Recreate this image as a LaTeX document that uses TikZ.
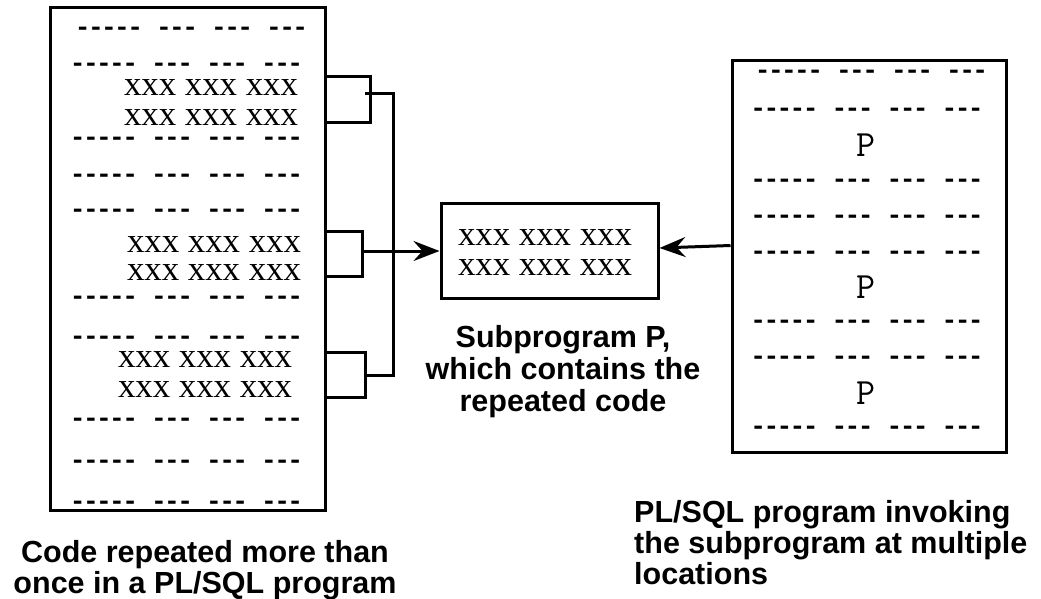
\documentclass[tikz,border=0pt]{standalone}
\usepackage{fontspec}
\setmainfont{Liberation Serif}
\newfontfamily\monofont[LetterSpace=-10]{Liberation Mono}
\newfontfamily\capfont{Liberation Sans}
\usetikzlibrary{arrows.meta}
\begin{document}
\begin{tikzpicture}[x=1pt,y=-1pt,
  box/.style={draw, line width=3pt, inner sep=0pt},
  dashrow/.style={anchor=base, inner sep=0pt, font=\monofont\bfseries\fontsize{26.2}{28}\selectfont},
  xrow/.style={anchor=base, inner sep=0pt, font=\fontsize{34.8}{36}\selectfont},
  prow/.style={anchor=base, inner sep=0pt, font=\ttfamily\fontsize{37}{40}\selectfont},
  capline/.style={anchor=base, inner sep=0pt, font=\capfont\bfseries\fontsize{30.5}{33}\selectfont},
  capleft/.style={capline, anchor=base west},
  conn/.style={line width=3pt, line join=miter},
  arr/.style={conn, -{Stealth[length=26pt,width=20pt,inset=9pt]}}
]
\useasboundingbox (0,0) rectangle (1041,599);

% ---------- left box ----------
\node[box, minimum width=275pt, minimum height=502pt] (lbox) at (187.5,259) {};
\node[dashrow] (l1) at (191.5,36) {----- --- --- ---};
\node[dashrow] (l2) at (186.5,72) {----- --- --- ---};
\node[xrow] (lx1) at (211,95.8) {xxx xxx xxx};
\node[xrow] (lx2) at (211,125.8) {xxx xxx xxx};
\node[dashrow] (l3) at (186.5,146) {----- --- --- ---};
\node[dashrow] (l4) at (186.5,182) {----- --- --- ---};
\node[dashrow] (l5) at (186.5,217) {----- --- --- ---};
\node[xrow] (lx3) at (214,252.8) {xxx xxx xxx};
\node[xrow] (lx4) at (214,280.8) {xxx xxx xxx};
\node[dashrow] (l6) at (186.5,304) {----- --- --- ---};
\node[dashrow] (l7) at (186.5,344) {----- --- --- ---};
\node[xrow] (lx5) at (205,367.8) {xxx xxx xxx};
\node[xrow] (lx6) at (205,397.8) {xxx xxx xxx};
\node[dashrow] (l8) at (186.5,426) {----- --- --- ---};
\node[dashrow] (l9) at (186.5,468) {----- --- --- ---};
\node[dashrow] (l10) at (186.5,509) {----- --- --- ---};

% ---------- middle box ----------
\node[box, minimum width=217pt, minimum height=95pt] (mbox) at (549.5,250.5) {};
\node[xrow] (mx1) at (545,245.8) {xxx xxx xxx};
\node[xrow] (mx2) at (545,275.8) {xxx xxx xxx};

% ---------- right box ----------
\node[box, minimum width=274pt, minimum height=391pt] (rbox) at (869,256.5) {};
\node[dashrow] (r1) at (871.5,79) {----- --- --- ---};
\node[dashrow] (r2) at (867,117) {----- --- --- ---};
\node[prow] (p1) at (866,157) {P};
\node[dashrow] (r3) at (867,187) {----- --- --- ---};
\node[dashrow] (r4) at (867,223) {----- --- --- ---};
\node[dashrow] (r5) at (867,259) {----- --- --- ---};
\node[prow] (p2) at (866,298) {P};
\node[dashrow] (r6) at (867,328) {----- --- --- ---};
\node[dashrow] (r7) at (867,364) {----- --- --- ---};
\node[prow] (p3) at (866,404) {P};
\node[dashrow] (r8) at (867,434) {----- --- --- ---};

% ---------- brackets ----------
\coordinate (b1t) at (lbox.east |- 0,77);
\coordinate (b1b) at (lbox.east |- 0,123);
\coordinate (b2t) at (lbox.east |- 0,231);
\coordinate (b2b) at (lbox.east |- 0,276);
\coordinate (b3t) at (lbox.east |- 0,352);
\coordinate (b3b) at (lbox.east |- 0,397);
\draw[conn] (b1t) -- (370,77) -- (370,123) -- (b1b);
\draw[conn] (b2t) -- (362,231) -- (362,276) -- (b2b);
\draw[conn] (b3t) -- (365,352) -- (365,397) -- (b3b);
\coordinate (j1) at (365,94);
\coordinate (j3) at (365,375);
\draw[conn] (j1) -- (393,94) -- (393,375) -- (j3);
\coordinate (j2) at (362,251);
\draw[arr] (j2) -- (mbox.west |- j2);

% ---------- arrow from right box ----------
\coordinate (rj) at (rbox.west |- 0,245.5);
\draw[arr] (rj) -- (mbox.east |- 0,248);

% ---------- captions ----------
\node[capline] (cl1) at (205,562) {Code repeated more than};
\node[capline] (cl2) at (205,593) {once in a PL/SQL program};
\node[capline] (cm1) at (563,347) {Subprogram P,};
\node[capline] (cm2) at (563,379) {which contains the};
\node[capline] (cm3) at (563,411) {repeated code};
\node[capleft] (cr1) at (634,522) {PL/SQL program invoking};
\node[capleft] (cr2) at (634,553) {the subprogram at multiple};
\node[capleft] (cr3) at (634,584) {locations};
\end{tikzpicture}
\end{document}
